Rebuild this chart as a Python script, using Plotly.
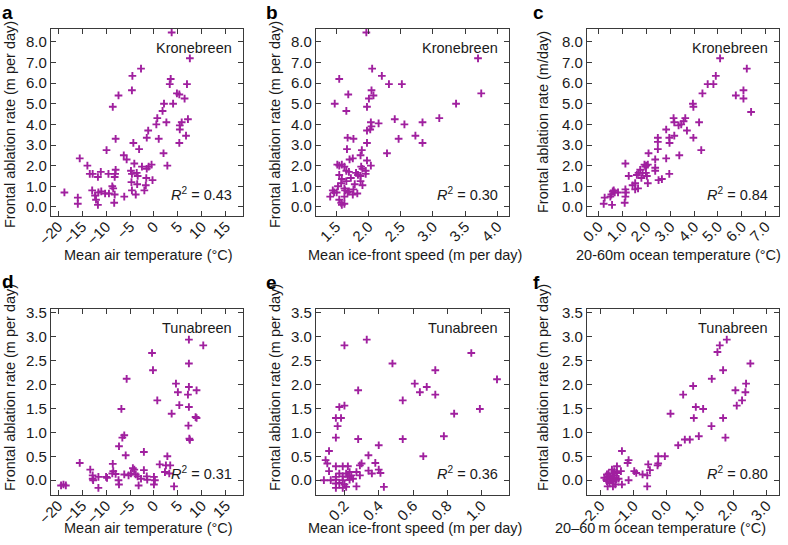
import plotly.graph_objects as go

# ---------------- data ----------------
# a: Kronebreen, mean air temperature vs frontal ablation rate
a_x = [3.7, 7.5, -2.7, -4.5, 3.5, 3.3, 6.9, -4.6, -7.4, 4.8, 5.3, 6.4, -8.6, 2.1, 4.0,
       1.8, 0.7, 2.6, 7.1, 5.8, 5.4, 5.4, 0.5, -1.2, -8.0, 1.0, -1.5, 6.7, 5.3, -4.3,
       -9.9, -3.1, 2.0, -6.3, -5.7, -15.5, -13.9, -4.1, 2.8, -0.5, -1.1, -1.5, -2.5,
       -13.4, -12.8, -11.1, -9.5, -8.0, -8.1, -8.2, -4.8, -3.6, -3.4, -4.6, -11.7, -1.6,
       -0.3, -8.7, -8.5, -4.7, -3.5, -1.7, -12.9, -11.6, -11.0, -10.2, -9.4, -12.3, -12.1,
       -15.9, -15.9, -18.7, -8.2, -6.2, -3.8, -2.0, -4.6, -11.7, -8.3]
a_y = [8.45, 7.2, 6.7, 6.35, 6.2, 5.95, 5.95, 5.65, 5.4, 5.5, 5.45, 5.25, 4.85, 5.0, 5.0,
       4.65, 4.3, 4.1, 4.25, 4.1, 3.95, 3.75, 4.0, 3.7, 3.3, 3.3, 3.35, 3.45, 3.1, 3.1,
       2.75, 2.8, 2.6, 2.5, 2.3, 2.35, 2.0, 2.1, 2.0, 2.05, 1.95, 1.85, 1.95,
       1.6, 1.6, 1.7, 1.6, 1.8, 1.6, 1.45, 1.75, 1.65, 1.5, 1.6, 1.45, 1.4,
       1.3, 1.0, 0.9, 1.2, 1.1, 1.05, 0.8, 0.7, 0.75, 0.65, 0.65, 0.55, 0.35,
       0.45, 0.15, 0.7, 0.6, 0.5, 0.6, 0.8, 0.8, 0.1, 0.2]

# b: Kronebreen, mean ice-front speed vs frontal ablation rate
b_x = [1.97, 3.70, 2.06, 2.21, 1.55, 2.32, 2.52, 2.05, 1.69, 2.08, 2.01, 1.48, 3.75, 3.36,
       1.66, 1.98, 3.10, 2.41, 2.04, 2.16, 2.84, 2.56, 2.05, 2.03, 1.98, 1.68, 1.77, 2.47,
       2.73, 2.84, 1.98, 1.67, 1.90, 2.29, 1.88, 1.71, 1.76, 1.98, 2.04, 1.52, 1.55, 1.59,
       1.63, 1.89, 1.91, 1.96, 1.66, 1.70, 1.81, 1.84, 1.96, 1.55, 1.59, 1.73, 1.58, 1.66,
       1.88, 1.88, 1.79, 1.91, 1.53, 1.63, 1.64, 1.70, 1.45, 1.47, 1.76, 1.83, 1.77, 1.68,
       1.41, 1.51, 1.55, 1.58, 1.59, 1.63, 1.63]
b_y = [8.45, 7.2, 6.7, 6.35, 6.2, 5.95, 5.95, 5.65, 5.45, 5.4, 5.25, 5.0, 5.5, 5.0,
       4.65, 4.85, 4.3, 4.25, 4.1, 4.05, 4.1, 4.0, 3.9, 3.75, 3.7, 3.35, 3.3, 3.3,
       3.45, 3.1, 3.1, 2.8, 2.75, 2.6, 2.5, 2.3, 2.35, 2.25, 2.0, 2.05, 2.0, 2.05,
       1.95, 1.95, 1.85, 1.75, 1.75, 1.7, 1.65, 1.55, 1.6, 1.55, 1.35, 1.4, 1.15, 1.25,
       1.25, 1.5, 1.1, 1.05, 1.0, 0.9, 0.8, 0.75, 0.8, 0.7, 0.6, 0.65, 0.85, 0.7,
       0.5, 0.7, 0.35, 0.2, 0.1, 0.15, 0.5]

# c: Kronebreen, 20-60 m ocean temperature vs frontal ablation rate
c_x = [5.09, 6.21, 4.91, 4.57, 4.81, 4.35, 5.75, 6.07, 6.07, 6.39, 3.95, 3.97, 3.14, 3.17,
       3.56, 3.63, 4.21, 3.35, 3.46, 3.70, 2.83, 3.97, 3.17, 2.96, 2.48, 2.48, 2.97, 2.48,
       4.30, 2.09, 3.38, 2.37, 2.83, 1.12, 1.92, 1.99, 2.06, 1.95, 2.37, 2.37, 1.74, 1.84,
       1.67, 1.60, 1.26, 1.98, 2.02, 2.96, 1.79, 2.65, 2.51, 2.06, 1.53, 1.42, 1.65, 1.53,
       1.12, 1.14, 1.12, 0.81, 0.67, 0.53, 0.63, 0.49, 0.59, 0.25, 0.21, 0.56, 1.09]
c_y = [7.2, 6.7, 6.35, 5.95, 5.95, 5.5, 5.4, 5.65, 5.25, 4.6, 5.0, 4.85, 4.3, 4.1,
       4.15, 4.3, 4.1, 3.95, 4.0, 3.7, 3.75, 3.35, 3.45, 3.35, 3.35, 3.15, 3.1, 2.8,
       2.75, 2.6, 2.5, 2.3, 2.35, 2.1, 2.05, 2.0, 2.05, 1.95, 1.9, 1.75, 1.8, 1.65,
       1.65, 1.55, 1.5, 1.65, 1.5, 1.6, 1.4, 1.35, 1.3, 1.15, 1.15, 1.05, 0.9, 0.85,
       0.85, 0.7, 0.5, 0.7, 0.7, 0.6, 0.8, 0.5, 0.75, 0.45, 0.15, 0.1, 0.2]

# d: Tunabreen, mean air temperature vs frontal ablation rate
d_x = [7.3, 10.3, -0.4, -0.2, 7.3, -5.7, 4.6, 5.0, 7.3, 8.9, 7.1, 0.7, 5.3, 7.3, -6.8,
       3.7, 8.7, 8.9, 7.2, 7.4, 7.5, -6.2, -6.6, -7.3, -2.1, -5.9, 2.8, -15.5, -8.6,
       -13.3, -4.4, -4.1, 1.2, -2.1, 2.5, 3.4, 2.3, 3.2, -8.5, -8.0, -8.7, -10.0, -11.6,
       -12.8, -12.8, -12.7, -9.8, -6.2, -5.3, -4.8, -3.8, -3.4, -2.7, -1.5, -1.4, 0.0,
       0.2, -7.4, -7.3, -11.6, -18.9, -18.4, -19.4, -3.2, 0.0, 4.2]
d_y = [2.94, 2.82, 2.66, 2.30, 2.44, 2.12, 2.02, 1.84, 1.95, 1.88, 1.79, 1.67, 1.57, 1.53,
       1.49, 1.39, 1.32, 1.30, 1.14, 0.87, 0.84, 0.94, 0.89, 0.71, 0.59, 0.52, 0.50, 0.36,
       0.34, 0.22, 0.25, 0.22, 0.33, 0.21, 0.31, 0.31, 0.17, 0.14, 0.19, 0.13, 0.14, 0.07,
       0.07, 0.10, 0.03, 0.00, 0.05, 0.12, 0.10, 0.14, 0.12, 0.08, 0.03, 0.08, 0.01, 0.07,
       0.00, 0.00, -0.09, -0.16, -0.09, -0.11, -0.11, -0.11, -0.09, -0.13]

# e: Tunabreen, mean ice-front speed vs frontal ablation rate
e_x = [0.33, 0.20, 0.48, 0.94, 0.73, 1.09, 0.61, 0.68, 0.28, 0.64, 0.73, 0.54, 0.20, 0.17,
       0.99, 0.84, 0.15, 0.18, 0.16, 0.78, 0.15, 0.54, 0.28, 0.40, 0.66, 0.11, 0.34, 0.09,
       0.38, 0.30, 0.29, 0.10, 0.15, 0.19, 0.22, 0.11, 0.34, 0.40, 0.41, 0.36, 0.27, 0.29,
       0.17, 0.21, 0.23, 0.15, 0.19, 0.22, 0.24, 0.08, 0.12, 0.15, 0.19, 0.23, 0.15, 0.17,
       0.20, 0.15, 0.19, 0.21, 0.27, 0.43, 0.25]
e_y = [2.94, 2.82, 2.44, 2.66, 2.30, 2.11, 2.02, 1.95, 1.88, 1.84, 1.79, 1.67, 1.56, 1.53,
       1.49, 1.39, 1.30, 1.30, 1.13, 0.92, 0.89, 0.86, 0.86, 0.73, 0.50, 0.61, 0.52, 0.42,
       0.36, 0.35, 0.31, 0.35, 0.29, 0.29, 0.29, 0.19, 0.20, 0.22, 0.15, 0.14, 0.17, 0.10,
       0.14, 0.14, 0.17, 0.07, 0.08, 0.07, 0.10, 0.00, 0.00, 0.01, 0.00, 0.01, -0.07, -0.06,
       -0.09, -0.16, -0.16, -0.14, -0.13, -0.14, 0.03]

# f: Tunabreen, 20-60 m ocean temperature vs frontal ablation rate
f_x = [1.80, 1.59, 1.52, 2.51, 1.69, 1.35, 0.79, 2.38, 2.06, 2.36, 0.49, 2.26, 2.10, 0.87,
       1.09, 0.11, 0.81, 1.69, 1.34, 0.96, 1.76, 0.54, 0.69, 0.34, -0.06, -0.26, -1.35,
       -0.26, -0.28, -0.56, -0.51, -1.15, -1.18, -0.98, -0.92, -0.73, -0.59, -1.50, -1.38,
       -1.65, -1.58, -1.50, -1.15, -1.35, -0.59,
       -1.88, -1.82, -1.80, -1.78, -1.75, -1.72, -1.70, -1.65, -1.62, -1.60, -1.58, -1.55,
       -1.52, -1.45, -1.80, -1.75, -1.62, -1.58]
f_y = [2.94, 2.82, 2.68, 2.44, 2.30, 2.12, 1.97, 2.02, 1.88, 1.84, 1.79, 1.67, 1.56, 1.53,
       1.49, 1.39, 1.30, 1.30, 1.13, 0.92, 0.89, 0.85, 0.85, 0.73, 0.50, 0.50, 0.61,
       0.35, 0.31, 0.33, 0.21, 0.42, 0.36, 0.19, 0.15, 0.12, 0.10, 0.29, 0.19,
       0.22, 0.19, 0.15, 0.00, -0.09, -0.13,
       0.05, 0.01, 0.12, -0.13, 0.08, -0.06, 0.05, 0.03, -0.13, -0.02, 0.10, -0.09,
       0.01, 0.03, -0.02, 0.14, 0.14, 0.05]

letters = ["a", "b", "c", "d", "e", "f"]
glaciers = ["Kronebreen", "Kronebreen", "Kronebreen", "Tunabreen", "Tunabreen", "Tunabreen"]
r2_values = ["0.43", "0.30", "0.84", "0.31", "0.36", "0.80"]
x_titles = ["Mean air temperature (°C)", "Mean ice-front speed (m per day)",
            "20-60m ocean temperature (°C)", "Mean air temperature (°C)",
            "Mean ice-front speed (m per day)", "20\u201360\u2009m ocean temperature (°C)"]
y_titles = ["Frontal ablation rate (m per day)", "Frontal ablation rate (m per day)",
            "Frontal ablation rate (m/day)", "Frontal ablation rate (m per day)",
            "Frontal ablation rate (m per day)", "Frontal ablation rate (m per day)"]
x_ticks = [[-20, -15, -10, -5, 0, 5, 10, 15], [1.5, 2.0, 2.5, 3.0, 3.5, 4.0],
           [0, 1, 2, 3, 4, 5, 6, 7], [-20, -15, -10, -5, 0, 5, 10, 15],
           [0.2, 0.4, 0.6, 0.8, 1.0], [-2, -1, 0, 1, 2, 3]]
y_ticks_top = [0, 1, 2, 3, 4, 5, 6, 7, 8]
y_ticks_bottom = [0, 0.5, 1.0, 1.5, 2.0, 2.5, 3.0, 3.5]

# ---------------- layout geometry (pixels) ----------------
W, H = 788, 545
col_px = [(51, 243), (316, 509), (587, 779)]
row_px = [(29, 216), (309, 495)]
x_ranges = [[-21.5, 18.6], [1.19, 4.18], [-0.49, 7.56],
            [-21.5, 18.6], [0.034, 1.16], [-2.4, 3.37]]
y_ranges = [[-0.44, 8.62], [-0.31, 3.58]]
x_fmt = ["d", ".1f", ".1f", "d", ".1f", ".1f"]
xtitle_pos = [(148, 255), (415, 255), (678, 255), (148, 528), (415, 528), (660, 528)]
ytitle_pos = [(10, 125), (275, 125), (543, 122), (10, 388), (275, 388), (543, 388)]
letter_pos = [(0, 0), (264, 0), (531, 0), (0, 269), (264, 270), (531, 270)]

purple = "#A0209F"
frame = "#3a3a3a"
txt = "#1a1a1a"
font_family = "Liberation Sans, Arial, Helvetica, sans-serif"
FS = 14.5

xs = [a_x, b_x, c_x, d_x, e_x, f_x]
ys = [a_y, b_y, c_y, d_y, e_y, f_y]

fig = go.Figure()
layout = dict(
    width=W, height=H, margin=dict(l=0, r=0, t=0, b=0),
    paper_bgcolor="white", plot_bgcolor="white", showlegend=False,
    font=dict(family=font_family, size=FS, color=txt),
)
annotations = []

for i in range(6):
    r, c = divmod(i, 3)
    sfx = "" if i == 0 else str(i + 1)
    xa, ya = "x" + sfx, "y" + sfx
    fig.add_trace(go.Scatter(
        x=xs[i], y=ys[i], mode="markers", xaxis=xa, yaxis=ya,
        marker=dict(symbol="cross-thin", size=5.5, color=purple,
                    line=dict(color=purple, width=1.9)),
        hoverinfo="skip"))
    x0, x1 = col_px[c]
    y0, y1 = row_px[r]
    common = dict(showline=True, mirror="ticks", linecolor=frame, linewidth=1.3,
                  ticks="inside", ticklen=5, tickwidth=1.3, tickcolor=frame,
                  showgrid=False, zeroline=False, automargin=False,
                  tickfont=dict(size=15, color=txt))
    layout["xaxis" + sfx] = dict(
        common, domain=[x0 / W, x1 / W], anchor=ya, range=x_ranges[i],
        tickvals=x_ticks[i], tickformat=x_fmt[i], tickangle=-45,
        ticklabelstandoff=-5)
    layout["yaxis" + sfx] = dict(
        common, domain=[1 - y1 / H, 1 - y0 / H], anchor=xa, range=y_ranges[r],
        tickvals=y_ticks_top if r == 0 else y_ticks_bottom, tickformat=".1f")
    dx = "x" + sfx + " domain"
    dy = "y" + sfx + " domain"
    annotations.append(dict(text=glaciers[i], xref=dx, yref=dy, x=0.955, y=0.90,
                            xanchor="right", yanchor="middle", showarrow=False,
                            font=dict(size=FS)))
    annotations.append(dict(text="<i>R</i><sup>2</sup> = " + r2_values[i], xref=dx, yref=dy,
                            x=0.955, y=0.12, xanchor="right", yanchor="middle",
                            showarrow=False, font=dict(size=FS)))
    tx, ty = xtitle_pos[i]
    annotations.append(dict(text=x_titles[i], xref="paper", yref="paper",
                            x=tx / W, y=1 - ty / H, xanchor="center", yanchor="middle",
                            showarrow=False, font=dict(size=FS)))
    vx, vy = ytitle_pos[i]
    annotations.append(dict(text=y_titles[i], xref="paper", yref="paper", textangle=-90,
                            x=vx / W, y=1 - vy / H, xanchor="center", yanchor="middle",
                            showarrow=False, font=dict(size=FS)))
    lx, ly = letter_pos[i]
    annotations.append(dict(text="<b>" + letters[i] + "</b>", xref="paper", yref="paper",
                            x=lx / W, y=1 - ly / H, xanchor="left", yanchor="top",
                            showarrow=False, font=dict(size=19, color="black")))

layout["annotations"] = annotations
fig.update_layout(**layout)
fig.write_html("out.html", config={"displayModeBar": False},
               post_script="document.body.style.margin='0';document.body.style.overflow='hidden';")
